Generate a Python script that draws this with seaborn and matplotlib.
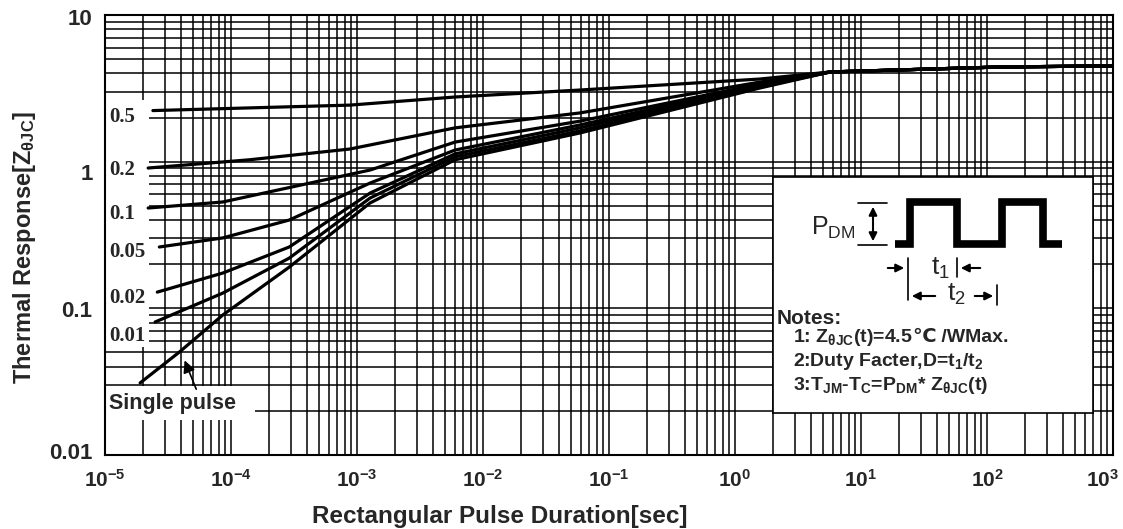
import numpy as np
import pandas as pd
import matplotlib
matplotlib.use("Agg")
import matplotlib.pyplot as plt
from matplotlib.ticker import LogLocator, NullFormatter
from matplotlib.patches import Rectangle
from matplotlib.transforms import ScaledTranslation
from matplotlib.offsetbox import TextArea, HPacker, AnnotationBbox
import seaborn as sns

# thermal response curves
duty_labels = ['0.5', '0.2', '0.1', '0.05', '0.02', '0.01', 'Single pulse']

t_05 = [2.4e-5, 8.8e-4, 6.0e-3, 5.9e-2, 1.58, 5.7, 126, 1000]
z_05 = [2.23, 2.43, 2.76, 3.08, 3.66, 4.09, 4.42, 4.5]

t_02 = [2.2e-5, 1.4e-4, 8.8e-4, 6.0e-3, 5.9e-2, 1.58, 5.7, 126, 1000]
z_02 = [0.905, 1.03, 1.22, 1.70, 2.15, 3.49, 4.09, 4.42, 4.5]

t_01 = [2.2e-5, 8.6e-5, 1.27e-3, 6.0e-3, 5.9e-2, 1.58, 5.7, 126, 1000]
z_01 = [0.483, 0.531, 0.877, 1.36, 1.89, 3.39, 4.09, 4.42, 4.5]

t_005 = [2.7e-5, 8.6e-5, 2.9e-4, 1.27e-3, 6.0e-3, 5.9e-2, 1.58, 5.7, 126, 1000]
z_005 = [0.262, 0.302, 0.400, 0.715, 1.20, 1.78, 3.33, 4.09, 4.42, 4.5]

t_002 = [2.6e-5, 8.6e-5, 2.9e-4, 1.27e-3, 6.0e-3, 5.9e-2, 1.58, 5.7, 126, 1000]
z_002 = [0.129, 0.174, 0.262, 0.611, 1.13, 1.70, 3.28, 4.09, 4.42, 4.5]

t_001 = [2.5e-5, 8.6e-5, 2.9e-4, 1.27e-3, 6.0e-3, 5.9e-2, 1.58, 5.7, 126, 1000]
z_001 = [0.0807, 0.127, 0.220, 0.565, 1.08, 1.62, 3.23, 4.09, 4.42, 4.5]

t_single = [1.9e-5, 3.9e-5, 8.6e-5, 2.9e-4, 1.27e-3, 6.0e-3, 5.9e-2, 1.58, 5.7, 126, 1000]
z_single = [0.031, 0.0504, 0.090, 0.191, 0.523, 1.03, 1.57, 3.18, 4.09, 4.42, 4.5]

x_tick_exp = [-5, -4, -3, -2, -1, 0, 1, 2, 3]
y_ticks = [0.01, 0.1, 1, 10]
y_tick_labels = ['0.01', '0.1', '1', '10']

curves = [(t_05, z_05), (t_02, z_02), (t_01, z_01), (t_005, z_005),
          (t_002, z_002), (t_001, z_001), (t_single, z_single)]
frames = []
for lab, (t, z) in zip(duty_labels, curves):
    frames.append(pd.DataFrame({'t': t, 'Z': z, 'D': lab}))
df = pd.concat(frames, ignore_index=True)

sns.set_style('white')
plt.rcParams['font.family'] = ['Liberation Sans', 'DejaVu Sans']
plt.rcParams['mathtext.fontset'] = 'custom'
plt.rcParams['mathtext.rm'] = 'Liberation Sans'
plt.rcParams['mathtext.bf'] = 'Liberation Sans:bold'
plt.rcParams['mathtext.it'] = 'Liberation Sans:italic'
plt.rcParams['mathtext.sf'] = 'Liberation Sans'

fig = plt.figure(figsize=(11.23, 5.29), dpi=100)
ax = fig.add_axes([105 / 1123, 1 - 455 / 529, 1008 / 1123, 440 / 529])

sns.lineplot(data=df, x='t', y='Z', hue='D', palette=['black'] * 7,
             estimator=None, legend=False, lw=2.3, ax=ax, zorder=3)
ax.set_xlabel('')
ax.set_ylabel('')

ax.set_xscale('log')
ax.set_yscale('log')
ax.set_xlim(1e-5, 1e3)
ax.set_ylim(0.01, 10)
ax.set_axisbelow(True)
ax.xaxis.set_minor_locator(LogLocator(base=10, subs=np.arange(2, 10), numticks=50))
ax.yaxis.set_minor_locator(LogLocator(base=10, subs=np.arange(2, 10), numticks=50))
ax.xaxis.set_minor_formatter(NullFormatter())
ax.yaxis.set_minor_formatter(NullFormatter())
ax.grid(True, which='both', color='black', lw=1.1)

ax.set_xticks([10.0 ** e for e in x_tick_exp])
ax.set_xticklabels([r'$\mathbf{10^{%d}}$' % e for e in x_tick_exp])
ax.set_yticks(y_ticks)
ax.set_yticklabels(y_tick_labels, fontweight='bold')
ax.tick_params(which='both', length=0)
ax.tick_params(axis='x', pad=10, labelsize=15)
ax.tick_params(axis='y', pad=9, labelsize=16)
for s in ax.spines.values():
    s.set_color('black')
    s.set_linewidth(1.5)

# the datasheet prints its y labels slightly off the grid lines
for lbl, dy in zip(ax.get_yticklabels(), [-4, 1, 10, 2]):
    lbl.set_transform(lbl.get_transform() + ScaledTranslation(0, -dy / 100, fig.dpi_scale_trans))
last = ax.get_xticklabels()[-1]
last.set_horizontalalignment('right')
last.set_transform(last.get_transform() + ScaledTranslation(0.06, 0, fig.dpi_scale_trans))

fig.text(500 / 1123, 1 - 517 / 529, 'Rectangular Pulse Duration[sec]', fontsize=17.5,
         fontweight='bold', ha='center', va='center')
fig.text(25 / 1123, 1 - 247 / 529, r'Thermal Response[Z$_{\mathbf{\theta JC}}$]', fontsize=17,
         fontweight='bold', ha='center', va='center', rotation=90)

# white strips behind the duty labels
ax.add_patch(Rectangle((0, 0.245), 0.044, 0.562, transform=ax.transAxes,
                       facecolor='white', edgecolor='none', zorder=1))
ax.add_patch(Rectangle((0, 0.08), 0.149, 0.077, transform=ax.transAxes,
                       facecolor='white', edgecolor='none', zorder=1))

label_y = [0.768, 0.648, 0.548, 0.461, 0.357, 0.27]
for lab, yy in zip(duty_labels[:-1], label_y):
    ax.text(0.004, yy, lab, transform=ax.transAxes, fontsize=15, fontweight='bold',
            family='Liberation Serif', ha='left', va='center', zorder=4)

ax.text(0.004, 0.116, 'Single pulse', transform=ax.transAxes, fontsize=15.5,
        fontweight='bold', ha='left', va='center', zorder=4)
ax.annotate('', xy=(4.2e-5, 0.046), xytext=(5.4e-5, 0.027),
            arrowprops=dict(arrowstyle='-|>', color='black', lw=1.2,
                            mutation_scale=18), zorder=4)

# notes box, drawn in pixel-like units
nb = fig.add_axes([773 / 1123, 1 - 413 / 529, 320 / 1123, 236 / 529])
nb.set_xlim(773, 1093)
nb.set_ylim(413, 177)
nb.set_xticks([])
nb.set_yticks([])
nb.set_facecolor('white')
for s in nb.spines.values():
    s.set_color('black')
    s.set_linewidth(1.2)

nb.text(833, 228, r'$\mathrm{P}_{\mathrm{DM}}$', fontsize=18, ha='center', va='center')
nb.plot([858, 887], [203, 203], color='black', lw=1.2)
nb.plot([858, 887], [245, 245], color='black', lw=1.2)
nb.annotate('', xy=(873, 204), xytext=(873, 244),
            arrowprops=dict(arrowstyle='<|-|>', color='black', lw=1.5, mutation_scale=12))
nb.plot([895, 910, 910, 957, 957, 1002, 1002, 1043, 1043, 1062],
        [244, 244, 202, 202, 244, 244, 202, 202, 244, 244],
        color='black', lw=5.5, solid_joinstyle='miter', solid_capstyle='butt')

nb.plot([908, 908], [258, 300], color='black', lw=1.2)
nb.plot([957, 957], [258, 277], color='black', lw=1.2)
nb.plot([997, 997], [285, 305], color='black', lw=1.2)
for x0, x1, yy in [(885, 907, 268), (983, 958, 268), (938, 909, 296), (972, 996, 296)]:
    nb.annotate('', xy=(x1, yy), xytext=(x0, yy),
                arrowprops=dict(arrowstyle='-|>', color='black', lw=1.5, mutation_scale=12))
nb.text(940, 268, r'$\mathrm{t}_{\mathrm{1}}$', fontsize=19, ha='center', va='center')
nb.text(956, 294, r'$\mathrm{t}_{\mathrm{2}}$', fontsize=19, ha='center', va='center')

nb.text(777, 318, 'Notes:', fontsize=15, fontweight='bold', ha='left', va='center')

# note 1 needs the ℃ sign, which mathtext cannot draw, so pack it on one baseline
bold = dict(fontsize=14, fontweight='bold', family='Liberation Sans')
note1 = HPacker(children=[TextArea(r'1: Z$_{\mathbf{\theta JC}}$(t)=4.5', textprops=bold),
                          TextArea('℃', textprops=dict(bold, family='DejaVu Sans')),
                          TextArea(' /WMax.', textprops=bold)],
                align='baseline', pad=0, sep=0)
nb.add_artist(AnnotationBbox(note1, (793, 337), xycoords='data', box_alignment=(0, 0.5),
                             frameon=False, pad=0))

notes = [r'2:Duty Facter,D=t$_{\mathbf{1}}$/t$_{\mathbf{2}}$',
         r'3:T$_{\mathbf{JM}}$-T$_{\mathbf{C}}$=P$_{\mathbf{DM}}$* Z$_{\mathbf{\theta JC}}$(t)']
for txt, yy in zip(notes, [361, 386]):
    nb.text(793, yy, txt, fontsize=14, fontweight='bold', ha='left', va='center')

fig.savefig('out.png', dpi=100)
